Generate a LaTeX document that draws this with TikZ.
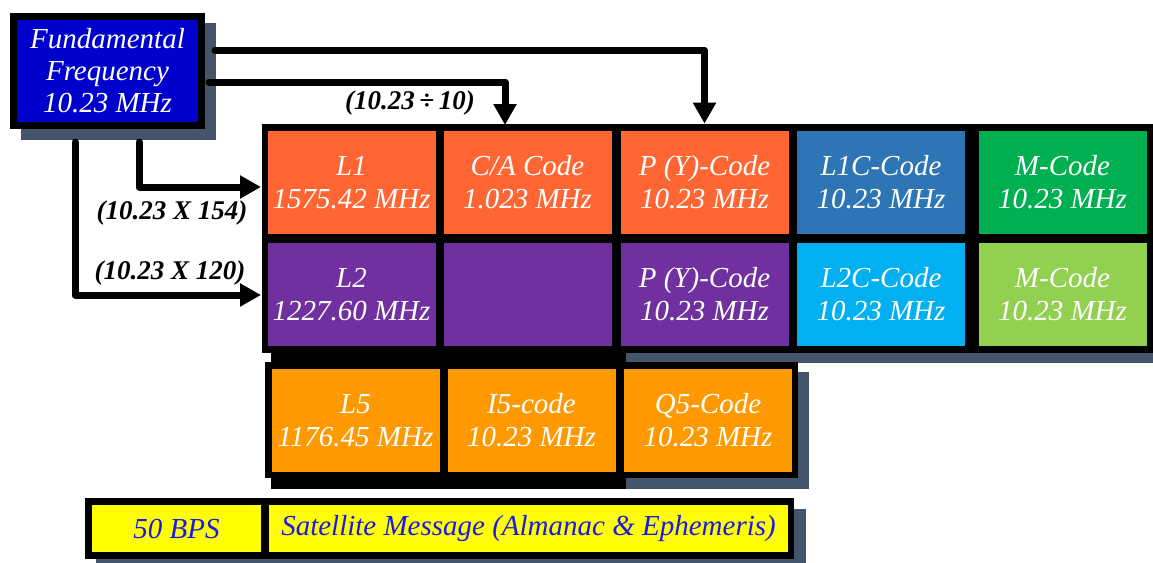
\documentclass[tikz,border=0pt]{standalone}
\usepackage{fontspec}
\setmainfont{Liberation Serif}
\usetikzlibrary{arrows.meta}

\definecolor{slate}{HTML}{44546A}
\definecolor{fundblue}{HTML}{0000CC}
\definecolor{lone}{HTML}{FF6633}
\definecolor{ltwo}{HTML}{7030A0}
\definecolor{lonec}{HTML}{2E75B6}
\definecolor{ltwoc}{HTML}{00B0F0}
\definecolor{mone}{HTML}{00B050}
\definecolor{mtwo}{HTML}{92D050}
\definecolor{lfive}{HTML}{FF9900}
\definecolor{msgyellow}{HTML}{FFFF00}
\definecolor{msgblue}{HTML}{1A1AE6}

\tikzset{
  cell/.style={rectangle, minimum width=84pt, minimum height=51.5pt, inner sep=0pt,
    text=white, align=center, font=\fontsize{14.5}{16.5}\selectfont\itshape},
  frame/.style={rectangle, fill=black, inner sep=0pt},
  lbl/.style={font=\fontsize{13.5}{15}\selectfont\bfseries\itshape},
  feed/.style={line width=3.5pt, line cap=round, line join=round},
  tip/.style={-{Triangle[length=10.5pt,width=11pt]}}
}

\begin{document}
\begin{tikzpicture}[x=0.5pt, y=-0.5pt]
    \useasboundingbox (0,0) rectangle (1153,563);

    % shadows
    \fill[slate] (21,23) rectangle (216,140);
    \fill[slate] (272,135) rectangle (1165,363);
    \fill[slate] (276,372) rectangle (809,489);
    \fill[black] (271,352) rectangle (626,489);
    \fill[slate] (96,509) rectangle (806,575);

    % fundamental frequency
    \node[cell, fill=fundblue, draw=black, line width=3.5pt,
          minimum width=94pt, minimum height=54.5pt,
          font=\fontsize{14.5}{16}\selectfont\itshape]
        (fund) at (107.5,71) {Fundamental\\Frequency\\10.23 MHz};

    % L1 / L2 block
    \node[frame, minimum width=451.5pt, minimum height=114.5pt] (grid) at (713.5,238.5) {};
    \node[cell, fill=lone]  (l1)    at (351.5,182.5) {L1\\1575.42 MHz};
    \node[cell, fill=lone]  (ca)    at (527.5,182.5) {C/A Code\\1.023 MHz};
    \node[cell, fill=lone]  (py1)   at (704.5,182.5) {P (Y)-Code\\10.23 MHz};
    \node[cell, fill=lonec] (l1c)   at (881,182.5)   {L1C-Code\\10.23 MHz};
    \node[cell, fill=mone]  (m1)    at (1062.5,182.5) {M-Code\\10.23 MHz};
    \node[cell, fill=ltwo]  (l2)    at (351.5,294.5) {L2\\1227.60 MHz};
    \node[cell, fill=ltwo]  (blank) at (527.5,294.5) {};
    \node[cell, fill=ltwo]  (py2)   at (704.5,294.5) {P (Y)-Code\\10.23 MHz};
    \node[cell, fill=ltwoc] (l2c)   at (881,294.5)   {L2C-Code\\10.23 MHz};
    \node[cell, fill=mtwo]  (m2)    at (1062.5,294.5) {M-Code\\10.23 MHz};

    % L5 block
    \node[frame, minimum width=266.5pt, minimum height=58pt] (lfiveframe) at (531.5,420) {};
    \node[cell, fill=lfive] (l5) at (355.5,420.5) {L5\\1176.45 MHz};
    \node[cell, fill=lfive] (i5) at (531.5,420.5) {I5-code\\10.23 MHz};
    \node[cell, fill=lfive] (q5) at (708,420.5)   {Q5-Code\\10.23 MHz};

    % navigation message
    \node[frame, minimum width=354.5pt, minimum height=30.5pt] (bar) at (439.5,528.5) {};
    \node[cell, fill=msgyellow, text=msgblue, minimum width=84.5pt, minimum height=23.5pt]
        (bps) at (176.5,528.5) {50 BPS};
    \node[cell, fill=msgyellow, text=msgblue, minimum width=259.5pt, minimum height=23.5pt]
        (msg) at (528.5,528.5) {Satellite Message (Almanac \& Ephemeris)};

    % feeds
    \coordinate (cain) at (505,125);
    \coordinate (l1in) at (261,187);
    \coordinate (l2in) at (261,295);
    \draw[feed, tip] ([xshift=5pt,yshift=10.5pt]fund.east) -| (py1.north |- grid.north);
    \draw[feed, tip] ([xshift=2pt,yshift=-5.5pt]fund.east) -| (cain);
    \draw[feed, tip] ([xshift=15.75pt,yshift=-6.5pt]fund.south) |- (l1in);
    \draw[feed, tip] ([xshift=-16.25pt,yshift=-6.5pt]fund.south) |- (l2in);

    \node[lbl] (div10) at (410,103) {(10.23\,÷\,10)};
    \node[lbl] (x154)  at (172,213) {(10.23 X 154)};
    \node[lbl] (x120)  at (170,273) {(10.23 X 120)};
\end{tikzpicture}
\end{document}
